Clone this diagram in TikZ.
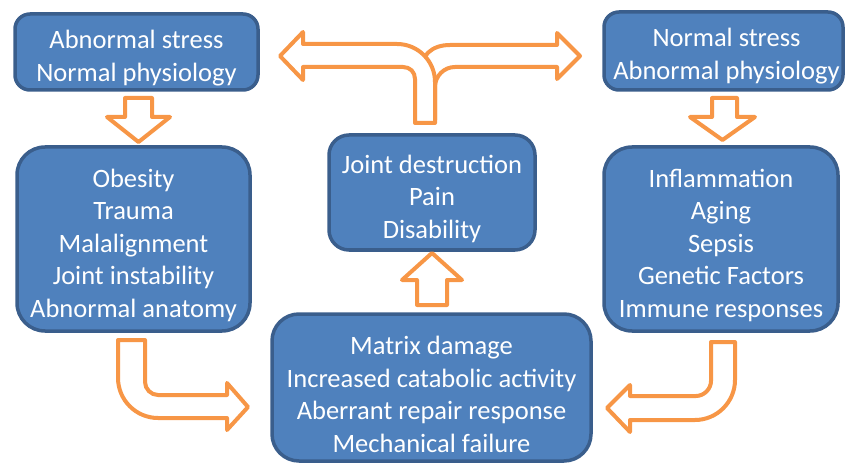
\documentclass[tikz,border=0pt]{standalone}
\usepackage{fontspec}
\setmainfont{Carlito}
\definecolor{boxfill}{HTML}{4F81BD}
\definecolor{boxline}{HTML}{3A5E8C}
\definecolor{arrorange}{HTML}{F79646}
\begin{document}
\begin{tikzpicture}[x=1pt,y=-1pt,
  bbox/.style={draw=boxline, fill=boxfill, line width=3.5pt, inner sep=0pt},
  txt/.style={text=white, align=center, inner sep=0pt, font=\fontsize{26.5}{32.5}\selectfont},
  blockarr/.style={draw=arrorange, fill=white, line width=4pt, line join=round}]
\useasboundingbox (0,0) rectangle (846,465);
% boxes
\node[bbox, rounded corners=15pt, minimum width=243pt, minimum height=76pt] (tl) at (136.5,52) {};
\node[bbox, rounded corners=15pt, minimum width=239pt, minimum height=78pt] (tr) at (723.5,51) {};
\node[bbox, rounded corners=28pt, minimum width=233pt, minimum height=184pt] (ml) at (133.5,239) {};
\node[bbox, rounded corners=28pt, minimum width=234pt, minimum height=184pt] (mr) at (721,239) {};
\node[bbox, rounded corners=20pt, minimum width=206pt, minimum height=115pt] (ct) at (432,192.5) {};
\node[bbox, rounded corners=27pt, minimum width=319pt, minimum height=147pt] (bc) at (431.5,387.5) {};
% texts
\node[txt] (tlt) at (tl.center) [yshift=-6pt] {Abnormal stress\\Normal physiology};
\node[txt] (trt) at (tr.center) [xshift=3pt,yshift=-5pt] {Normal stress\\Abnormal physiology};
\node[txt] (mlt) at (ml.center) [yshift=-6pt] {Obesity\\Trauma\\Malalignment\\Joint instability\\Abnormal anatomy};
\node[txt] (mrt) at (mr.center) [yshift=-6pt] {Inflammation\\Aging\\Sepsis\\Genetic Factors\\Immune responses};
\node[txt] (ctt) at (ct.center) [yshift=-6pt] {Joint destruction\\Pain\\Disability};
\node[txt] (bct) at (bc.center) [yshift=-7pt] {Matrix damage\\Increased catabolic activity\\Aberrant repair response\\Mechanical failure};
% down arrows
\draw[blockarr] (125,98) -- (152,98) -- (152,117) -- (170,117) -- (138.5,142) -- (107,117) -- (125,117) -- cycle;
\draw[blockarr] (712,98) -- (737,98) -- (737,117) -- (755,117) -- (722.5,140) -- (690,117) -- (712,117) -- cycle;
% up arrow
\draw[blockarr] (417,305) -- (447,305) -- (447,280) -- (462,280) -- (432,253) -- (402,280) -- (417,280) -- cycle;
% bent arrow left
\draw[blockarr] (118,340) -- (145,340) -- (145,382) .. controls (145,389) and (151,395) .. (158,395) -- (227,395) -- (227,383) -- (248,407) -- (227,430) -- (227,418) -- (158,418) .. controls (136,418) and (118,400) .. (118,378) -- cycle;
% bent arrow right
\draw[blockarr] (711,342) -- (735,342) -- (735,380) .. controls (735,402) and (717,420) .. (695,420) -- (630,420) -- (630,432) -- (607,408) -- (630,385) -- (630,396) -- (696,396) .. controls (704,396) and (711,389) .. (711,381) -- cycle;
% split arrow: right branch
\draw[blockarr] (420,120) -- (420,75) .. controls (420,55) and (432,45) .. (450,45) -- (557,45) -- (557,33) -- (580,56) -- (557,79) -- (557,67) -- (455,67) .. controls (444,67) and (435,76) .. (435,87) -- (435,120) -- cycle;
% split arrow: left branch
\draw[blockarr] (415,123) -- (415,79) .. controls (415,72) and (410,67) .. (403,67) -- (303,67) -- (303,80) -- (280,56) -- (303,32) -- (303,44) -- (397,44) .. controls (418,44) and (435,61) .. (435,82) -- (435,123) -- cycle;
\end{tikzpicture}
\end{document}
